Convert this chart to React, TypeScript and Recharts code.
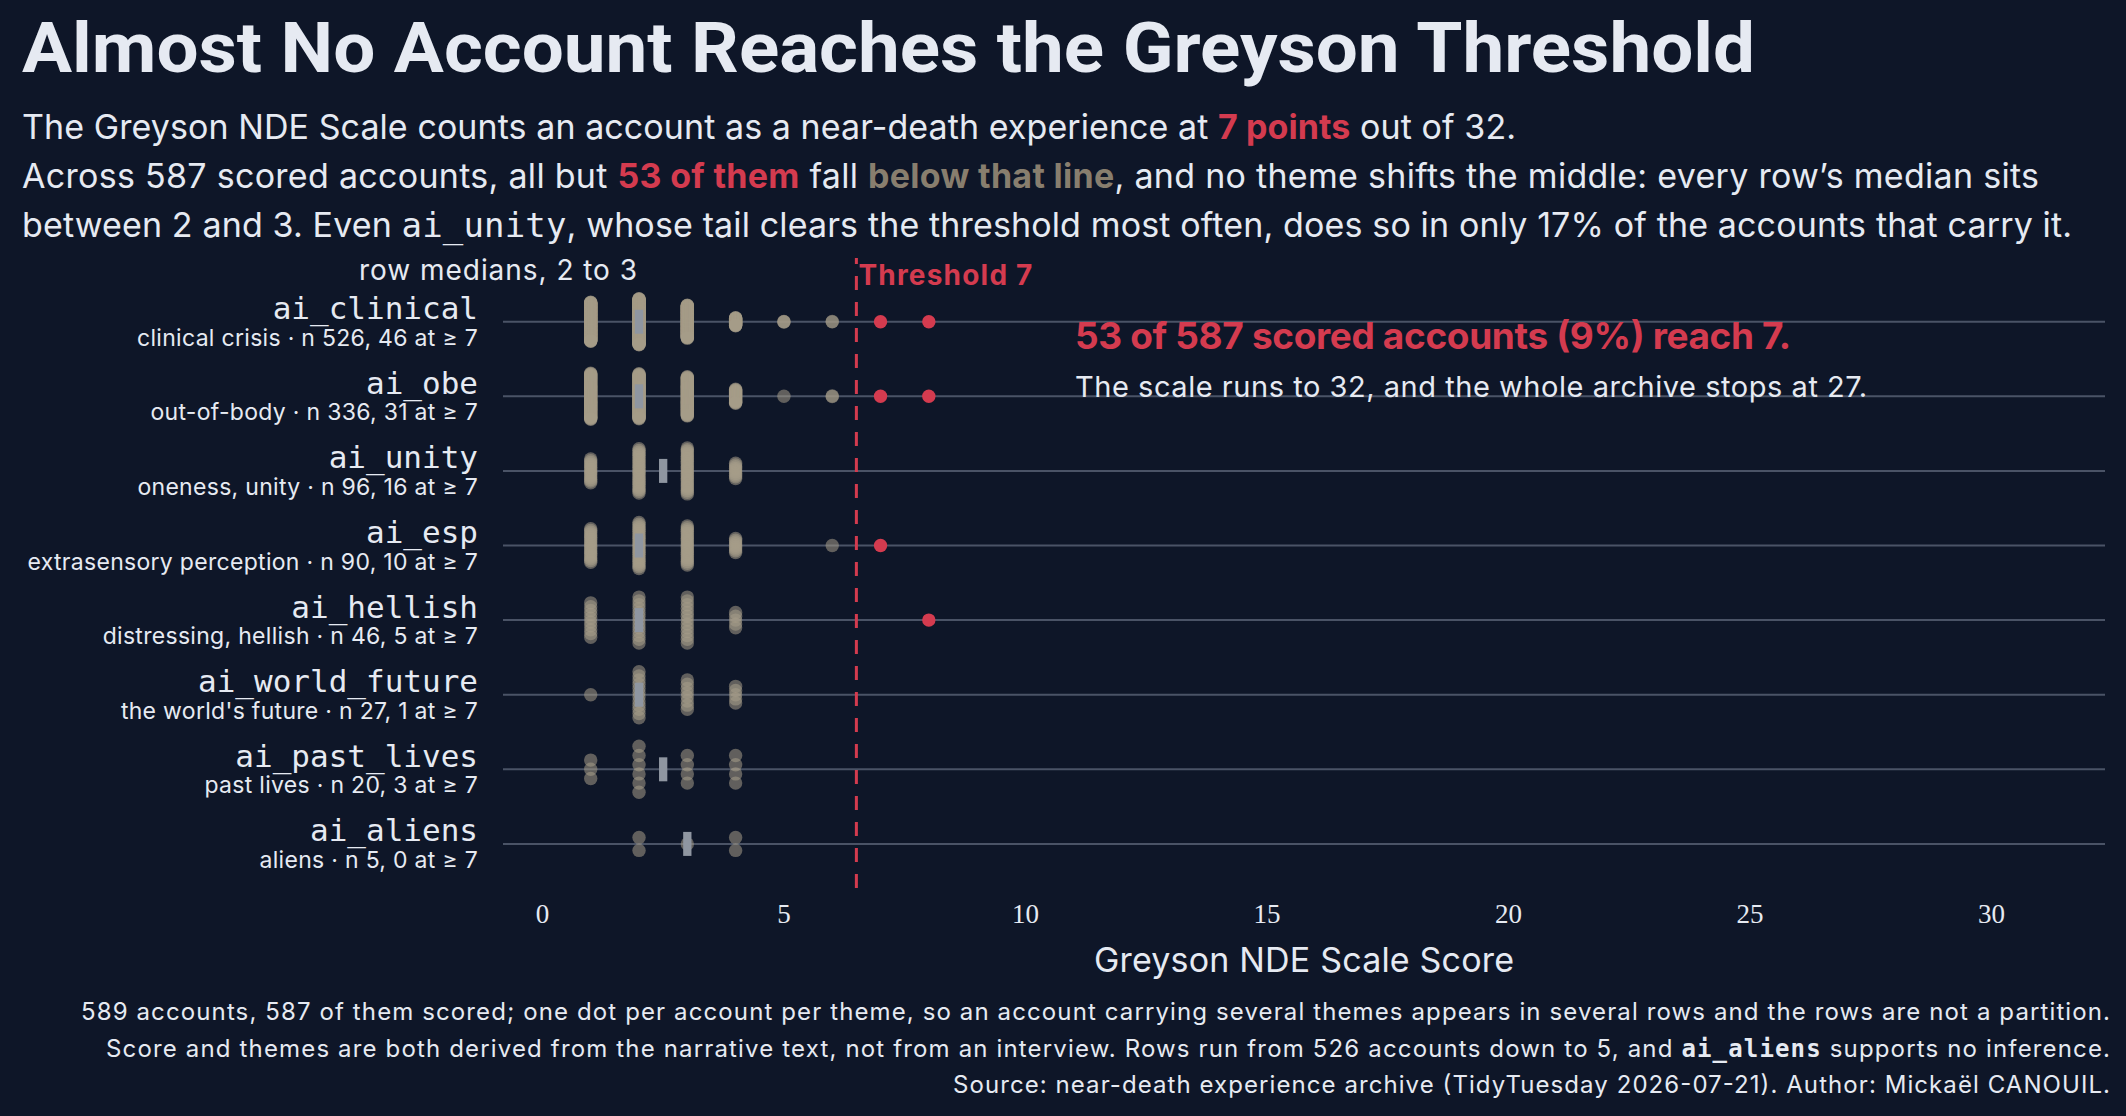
import React from "react";
import { ReferenceLine, Scatter, ScatterChart, XAxis, YAxis } from "recharts";

const BG = "#0e1628";
const INK = "#e6eaf2";
const RED = "#d43b4f";
const TAN = "#a69c88";
const MUTED = "#887e6e";
const RULE = "#4a5366";
const MEDIAN = "#8f96a1";

const SANS = "Inter, Roboto, sans-serif";
const TITLE = "Roboto, Inter, sans-serif";
const MONO = "'DejaVu Sans Mono', 'Liberation Mono', monospace";
const SERIF = "'Liberation Serif', serif";

// one row per theme, top to bottom
const themes = [
  "ai_clinical",
  "ai_obe",
  "ai_unity",
  "ai_esp",
  "ai_hellish",
  "ai_world_future",
  "ai_past_lives",
  "ai_aliens",
];
const themeNotes = [
  "clinical crisis",
  "out-of-body",
  "oneness, unity",
  "extrasensory perception",
  "distressing, hellish",
  "the world's future",
  "past lives",
  "aliens",
];
const themeN = [526, 336, 96, 90, 46, 27, 20, 5];
const themeAtSeven = [46, 31, 16, 10, 5, 1, 3, 0];
const rowMedians = [2, 2, 2.5, 2, 2, 2, 2.5, 3];

// accounts per score (1..8) in each row
const scores = [1, 2, 3, 4, 5, 6, 7, 8];
const countsClinical = [147, 173, 124, 31, 3, 2, 31, 15];
const countsObe = [96, 94, 82, 30, 1, 2, 20, 11];
const countsUnity = [15, 27, 28, 10, 0, 0, 0, 0];
const countsEsp = [20, 27, 23, 9, 0, 1, 10, 0];
const countsHellish = [10, 13, 13, 5, 0, 0, 0, 5];
const countsWorldFuture = [1, 12, 8, 5, 0, 0, 0, 0];
const countsPastLives = [3, 6, 4, 4, 0, 0, 0, 0];
const countsAliens = [0, 2, 1, 2, 0, 0, 0, 0];
const scoreCounts = [
  countsClinical,
  countsObe,
  countsUnity,
  countsEsp,
  countsHellish,
  countsWorldFuture,
  countsPastLives,
  countsAliens,
];

const THRESHOLD = 7;
const xTicks = [0, 5, 10, 15, 20, 25, 30];
const rowTicks = themes.map((_, i) => i);

// chart geometry
const W = 2126;
const H = 1116;
const PLOT_TOP = 258;
const PLOT_BOTTOM = 888;
const Y_AXIS_W = 503;
const X_DOMAIN: [number, number] = [-0.816, 32.35];
const Y_DOMAIN: [number, number] = [-0.854, 7.591];
const ROW_PX = (PLOT_BOTTOM - PLOT_TOP) / (Y_DOMAIN[1] - Y_DOMAIN[0]);

// stacking of dots inside a column, in pixels
const MAX_SPAN = 46;
const DOT_GAP = 13;
const DOT_R = 6.7;

type Pt = { score: number; row: number };

function buildDots() {
  const grey: Pt[] = [];
  const red: Pt[] = [];
  scoreCounts.forEach((counts, row) => {
    const below = counts.filter((_, i) => scores[i] < THRESHOLD);
    const maxK = Math.max(...below);
    const gap = Math.min(DOT_GAP, MAX_SPAN / Math.max(1, maxK - 1));
    counts.forEach((k, i) => {
      const score = scores[i];
      if (k === 0) return;
      if (score >= THRESHOLD) {
        red.push({ score, row });
        return;
      }
      for (let j = 0; j < k; j++) {
        const off = (j - (k - 1) / 2) * gap;
        grey.push({ score, row: row + off / ROW_PX });
      }
    });
  });
  return { grey, red };
}

const { grey: greyDots, red: redDots } = buildDots();
const medianMarks = rowMedians.map((m, row) => ({ score: m, row }));

function RowTick(props: any) {
  const { x, y, payload } = props;
  const i = payload.value as number;
  return (
    <g>
      <text x={x - 25} y={y - 2.5} textAnchor="end" fill={INK} fontFamily={MONO} fontSize={31}>
        {themes[i]}
      </text>
      <text
        x={x - 25}
        y={y + 24}
        textAnchor="end"
        fill={INK}
        fontFamily={SANS}
        fontSize={23}
        letterSpacing={0.3}
      >
        {`${themeNotes[i]} · n ${themeN[i]}, ${themeAtSeven[i]} at ≥ 7`}
      </text>
    </g>
  );
}

function ScoreTick(props: any) {
  const { x, y, payload } = props;
  return (
    <text x={x} y={y + 35} textAnchor="middle" fill={INK} fontFamily={SERIF} fontSize={27}>
      {payload.value}
    </text>
  );
}

const greyDot = (p: any) => (
  <circle cx={p.cx} cy={p.cy} r={DOT_R} fill={TAN} fillOpacity={0.55} />
);
const redDot = (p: any) => <circle cx={p.cx} cy={p.cy} r={DOT_R} fill={RED} />;
const medianBar = (p: any) => (
  <rect x={p.cx - 4.15} y={p.cy - 12} width={8.3} height={24} fill={MEDIAN} />
);

export default function App() {
  return (
    <div
      style={{
        position: "absolute",
        left: 0,
        top: 0,
        width: W,
        height: H,
        background: BG,
        overflow: "hidden",
      }}
    >
      <ScatterChart
        width={W}
        height={H}
        margin={{ top: PLOT_TOP, right: W - 2105, bottom: H - PLOT_BOTTOM - 60, left: 0 }}
      >
        <XAxis
          type="number"
          dataKey="score"
          domain={X_DOMAIN}
          ticks={xTicks}
          allowDataOverflow
          axisLine={false}
          tickLine={false}
          tickSize={0}
          tickMargin={0}
          height={60}
          tick={(p: any) => <ScoreTick {...p} />}
        />
        <YAxis
          type="number"
          dataKey="row"
          domain={Y_DOMAIN}
          ticks={rowTicks}
          reversed
          allowDataOverflow
          interval={0}
          axisLine={false}
          tickLine={false}
          tickSize={0}
          tickMargin={0}
          width={Y_AXIS_W}
          tick={(p: any) => <RowTick {...p} />}
        />
        {rowTicks.map((i) => (
          <ReferenceLine key={i} y={i} stroke={RULE} strokeWidth={2} />
        ))}
        <ReferenceLine
          x={THRESHOLD - 0.5}
          stroke={RED}
          strokeWidth={3}
          strokeDasharray="14 12"
          label={(p: any) => (
            <text
              x={p.viewBox.x + 2}
              y={p.viewBox.y + 27}
              fill={RED}
              fontFamily={SANS}
              fontWeight={700}
              fontSize={28}
              textLength={174}
            >
              Threshold 7
            </text>
          )}
        />
        <Scatter data={greyDots} shape={greyDot} isAnimationActive={false} />
        <Scatter data={redDots} shape={redDot} isAnimationActive={false} />
        <Scatter data={medianMarks} shape={medianBar} isAnimationActive={false} />
      </ScatterChart>

      <svg
        width={W}
        height={H}
        style={{ position: "absolute", left: 0, top: 0, pointerEvents: "none" }}
      >
        <g fontFamily={SANS} fill={INK}>
          <text
            x={22}
            y={72}
            fontFamily={TITLE}
            fontSize={70}
            fontWeight={700}
            textLength={1733}
            lengthAdjust="spacingAndGlyphs"
          >
            Almost No Account Reaches the Greyson Threshold
          </text>
          <text x={22} y={139} fontSize={34} textLength={1494}>
            The Greyson NDE Scale counts an account as a near-death experience at{" "}
            <tspan fill={RED} fontWeight={700}>7 points</tspan> out of 32.
          </text>
          <text x={22} y={188} fontSize={34} textLength={2017}>
            Across 587 scored accounts, all but{" "}
            <tspan fill={RED} fontWeight={700}>53 of them</tspan> fall{" "}
            <tspan fill={MUTED} fontWeight={700}>below that line</tspan>, and no theme shifts the
            middle: every row’s median sits
          </text>
          <text x={22} y={237} fontSize={34} textLength={2050}>
            between 2 and 3. Even <tspan fontFamily={MONO}>ai_unity</tspan>, whose tail clears the
            threshold most often, does so in only 17% of the accounts that carry it.
          </text>

          <text x={359} y={280} fontSize={28} textLength={278}>
            row medians, 2 to 3
          </text>

          <text x={1075} y={349} fontSize={37} fontWeight={700} fill={RED} textLength={716}>
            53 of 587 scored accounts (9%) reach 7.
          </text>
          <text x={1075} y={397} fontSize={29} textLength={792}>
            The scale runs to 32, and the whole archive stops at 27.
          </text>

          <text x={1304} y={972} fontSize={34} textAnchor="middle" textLength={420}>
            Greyson NDE Scale Score
          </text>

          <text x={2110} y={1020} fontSize={24} textAnchor="end" textLength={2029}>
            589 accounts, 587 of them scored; one dot per account per theme, so an account carrying
            several themes appears in several rows and the rows are not a partition.
          </text>
          <text x={2110} y={1057} fontSize={24} textAnchor="end" textLength={2004}>
            Score and themes are both derived from the narrative text, not from an interview. Rows
            run from 526 accounts down to 5, and{" "}
            <tspan fontFamily={MONO} fontWeight={700}>ai_aliens</tspan> supports no inference.
          </text>
          <text x={2110} y={1093} fontSize={24} textAnchor="end" textLength={1157}>
            Source: near-death experience archive (TidyTuesday 2026-07-21). Author: Mickaël CANOUIL.
          </text>
        </g>
      </svg>
    </div>
  );
}
